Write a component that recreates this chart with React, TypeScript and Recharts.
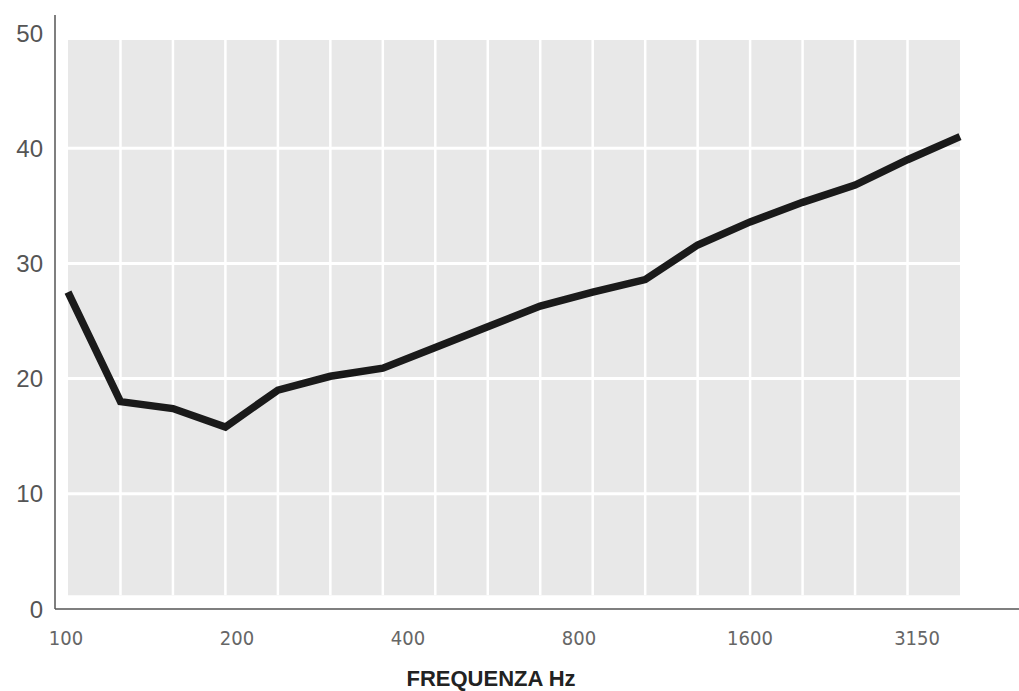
import React from 'react'
import { LineChart, Line, XAxis, YAxis, ReferenceArea, ReferenceLine, Label } from 'recharts'

// third-octave bands
const bands = ['100', '125', '160', '200', '250', '315', '400', '500', '630', '800', '1000', '1250', '1600', '2000', '2500', '3150', '4000', '5000']
const insulation = [27.5, 18.0, 17.4, 15.8, 19.0, 20.2, 20.9, 22.7, 24.5, 26.3, 27.5, 28.6, 31.6, 33.6, 35.3, 36.8, 39.0, 41.0]

const yTicks = [0, 10, 20, 30, 40, 50]
const gridValues = [10, 20, 30, 40]
const freqTicks = [100, 200, 400, 800, 1600, 3150]

const data = bands.map((band, i) => ({ band, hz: Number(band), value: insulation[i] }))

const BG_BOTTOM = 1.2
const BG_TOP = 49.4
const first = bands[0]
const last = bands[bands.length - 1]

export default function App() {
    return (
        <div style={{ position: 'absolute', left: 0, top: 0 }}>
            <LineChart width={1019} height={691} data={data} margin={{ top: 15, right: 0, bottom: 0, left: 0 }}>
                <XAxis xAxisId='data' dataKey='band' hide height={0} padding={{ left: 13, right: 59 }} />
                <XAxis
                    xAxisId='freq'
                    dataKey='hz'
                    type='number'
                    scale='log'
                    domain={[100, 4000]}
                    ticks={freqTicks}
                    interval={0}
                    allowDataOverflow
                    padding={{ left: 11, right: 43 }}
                    height={82}
                    tickLine={false}
                    tickMargin={16}
                    axisLine={{ stroke: '#555', strokeWidth: 1.5 }}
                    tick={{ fill: '#666', fontSize: 20, fontFamily: "'Liberation Sans Narrow', 'Arial Narrow', 'DejaVu Sans Condensed', sans-serif" }}
                >
                    <Label
                        value='FREQUENZA Hz'
                        position='insideBottom'
                        offset={5}
                        dx={-46}
                        style={{ fill: '#222', fontSize: 22, fontWeight: 'bold', fontFamily: "'Liberation Sans', Arial, sans-serif" }}
                    />
                </XAxis>
                <YAxis
                    domain={[0, 50]}
                    ticks={yTicks}
                    width={55}
                    padding={{ top: 18, bottom: 0 }}
                    tickLine={false}
                    tickMargin={6}
                    axisLine={{ stroke: '#555', strokeWidth: 1.5 }}
                    tick={{ fill: '#555', fontSize: 24, fontFamily: "'Liberation Sans', Arial, sans-serif" }}
                />
                <ReferenceArea xAxisId='data' x1={first} x2={last} y1={BG_BOTTOM} y2={BG_TOP} fill='#e8e8e8' fillOpacity={1} stroke='none' />
                {bands.slice(1, -1).map((band) => (
                    <ReferenceLine
                        key={band}
                        xAxisId='data'
                        segment={[{ x: band, y: BG_BOTTOM }, { x: band, y: BG_TOP }]}
                        stroke='#ffffff'
                        strokeWidth={2.5}
                    />
                ))}
                {gridValues.map((v) => (
                    <ReferenceLine
                        key={v}
                        xAxisId='data'
                        segment={[{ x: first, y: v }, { x: last, y: v }]}
                        stroke='#ffffff'
                        strokeWidth={3}
                    />
                ))}
                {/* invisible series so the frequency axis gets its ticks */}
                <Line
                    xAxisId='freq'
                    dataKey='value'
                    stroke='none'
                    dot={false}
                    activeDot={false}
                    isAnimationActive={false}
                />
                <Line
                    xAxisId='data'
                    dataKey='value'
                    type='linear'
                    stroke='#1a1a1a'
                    strokeWidth={7.5}
                    dot={false}
                    activeDot={false}
                    isAnimationActive={false}
                />
            </LineChart>
        </div>
    )
}
